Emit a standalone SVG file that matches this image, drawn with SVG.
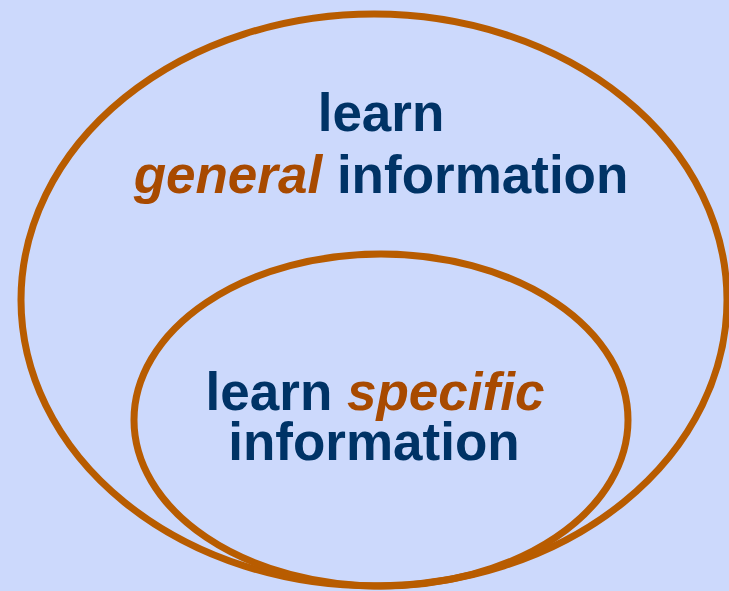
<svg xmlns="http://www.w3.org/2000/svg" width="729" height="591" viewBox="0 0 729 591">
  <style>
    .ring { fill: none; stroke: #B85C00; stroke-width: 7; }
    .label { font-family: "Liberation Sans", Arial, sans-serif; font-weight: bold; font-size: 53px; fill: #003366; text-anchor: middle; }
    .em { font-style: italic; fill: #A84A00; }
  </style>
  <rect width="729" height="591" fill="#CCD9FC"/>
  <g id="general">
    <ellipse class="ring" cx="374" cy="300" rx="353" ry="286"/>
    <text class="label" x="381" y="131">learn</text>
    <text class="label" x="381" y="193"><tspan class="em">general</tspan> information</text>
  </g>
  <g id="specific">
    <ellipse class="ring" cx="381" cy="420" rx="247" ry="166"/>
    <text class="label" x="375" y="410">learn <tspan class="em">specific</tspan></text>
    <text class="label" x="374" y="460">information</text>
  </g>
</svg>
